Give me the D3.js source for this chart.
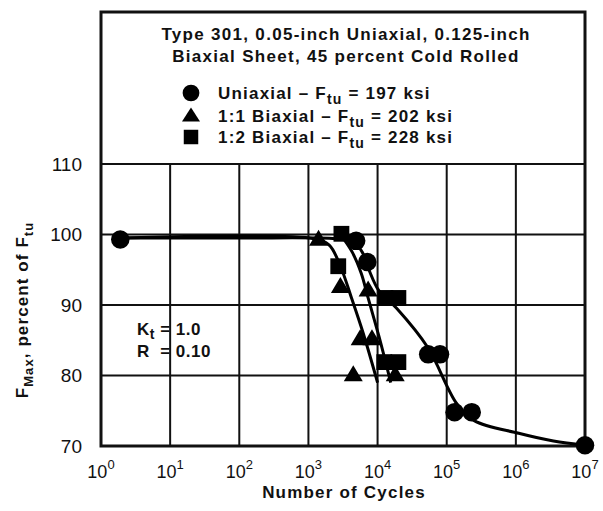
<!DOCTYPE html>
<html><head><meta charset="utf-8">
<script src="https://cdn.jsdelivr.net/npm/d3@7"></script>
<style>
body{margin:0;background:#fff;}
svg text{font-family:"Liberation Sans",Arial,sans-serif;font-weight:bold;fill:#111;}
</style></head>
<body>
<svg id="c" width="603" height="511"></svg>
<script>
// ---- data ----
const xTickExps = [0,1,2,3,4,5,6,7];
const yTicks = [70,80,90,100,110];
const titleLines = ["Type 301, 0.05-inch Uniaxial, 0.125-inch","Biaxial Sheet, 45 percent Cold Rolled"];
const seriesNames = ["Uniaxial","1:1 Biaxial","1:2 Biaxial"];
const seriesFtu = [197,202,228];
// test points [cycles, percent of Ftu]
const uniaxial = [[1.9,99.3],[4900,99.1],[7100,96.1],[54000,83],[80000,83],[130000,74.8],[230000,74.8],[1e7,70.1]];
const biaxial11 = [[1400,99.3],[2900,92.6],[7300,92.1],[5600,85.2],[8300,85.2],[4450,80.1],[18000,80.1]];
const biaxial12 = [[3000,100.1],[2700,95.5],[13000,91],[20000,91],[12500,81.9],[20000,81.9]];
// faired curves [cycles, percent of Ftu]
const curveUni = [[1.9,99.5],[100,99.5],[2500,99.4],[4500,99.0],[6000,97.5],[7500,95],[10500,92],[19000,89.5],[53000,84],[140000,76],[250000,73.6],[1.1e6,71.8],[3.5e6,70.7],[1e7,70.1]];
const curve11 = [[1.9,99.5],[1200,99.4],[2000,98.5],[2900,95.5],[4200,91],[6200,86],[10000,79]];
const curve12 = [[3000,99.8],[4300,97.5],[5800,94.5],[7300,91],[10500,85.5],[15500,79]];
const ktText = ["K","t"," = 1.0"];
const rText = "R  = 0.10";

// ---- scales ----
const svg = d3.select("#c");
const x = d3.scaleLog().domain([1,1e7]).range([101,585]);
const y = d3.scaleLinear().domain([70,110]).range([446,164]);

// grid
const g = svg.append("g");
g.selectAll("line.h").data(yTicks).join("line")
  .attr("x1",x(1)).attr("x2",x(1e7)).attr("y1",d=>y(d)).attr("y2",d=>y(d))
  .attr("stroke","#111").attr("stroke-width",2);
g.selectAll("line.v").data(xTickExps).join("line")
  .attr("x1",d=>x(Math.pow(10,d))).attr("x2",d=>x(Math.pow(10,d)))
  .attr("y1",y(110)).attr("y2",y(70))
  .attr("stroke","#111").attr("stroke-width",2);
// outer frame
svg.append("rect").attr("x",x(1)).attr("y",12).attr("width",x(1e7)-x(1)).attr("height",y(70)-12)
  .attr("fill","none").attr("stroke","#111").attr("stroke-width",3);

// y tick labels
const yAxis = d3.axisLeft(y).tickValues(yTicks).tickSize(0).tickPadding(19);
const ya = svg.append("g").attr("transform",`translate(${x(1)},0)`).call(yAxis);
ya.select(".domain").remove();
ya.selectAll("text").style("font-family","Liberation Sans, Arial, sans-serif").style("font-size","19px").style("font-weight","normal").attr("fill","#111");

// x tick labels
const xa = svg.append("g");
xTickExps.forEach(e=>{
  const t = xa.append("text").attr("x",x(Math.pow(10,e))).attr("y",478)
    .attr("text-anchor","middle").style("font-size","18px").style("font-weight","normal");
  t.append("tspan").text("10");
  t.append("tspan").attr("dy",-9).style("font-size","13px").text(e);
});
svg.append("text").attr("x",344).attr("y",498).attr("text-anchor","middle")
  .style("font-size","17px").style("letter-spacing","1.2px").text("Number of Cycles");

const yl = svg.append("text").attr("transform","translate(28,310) rotate(-90)").attr("text-anchor","middle")
  .style("font-size","17px").style("letter-spacing","1.1px");
yl.append("tspan").text("F");
yl.append("tspan").attr("dy",5).style("font-size","13px").text("Max");
yl.append("tspan").attr("dy",-5).text(", percent of F");
yl.append("tspan").attr("dy",5).style("font-size","13px").text("tu");

// title
titleLines.forEach((t,i)=>{
  svg.append("text").attr("x",346).attr("y",40+i*22).attr("text-anchor","middle")
    .style("font-size","17px").style("letter-spacing","1.3px").text(t);
});

// symbols
const triPath = (w,h)=>`M0,${-h*0.6}L${w/2},${h*0.4}L${-w/2},${h*0.4}Z`;
const symCircle = d3.symbol().type(d3.symbolCircle).size(270);
const symSq = d3.symbol().type(d3.symbolSquare).size(250);
const syms=[()=>symCircle(),()=>triPath(19,16),()=>symSq()];

// legend
const legY = [93,116,137];
seriesNames.forEach((n,i)=>{
  const ly = legY[i];
  const lsym = [d3.symbol().type(d3.symbolCircle).size(220)(), triPath(18,14), d3.symbol().type(d3.symbolSquare).size(210)()][i];
  svg.append("path").attr("d",lsym).attr("transform",`translate(191,${ly})`).attr("fill","#000");
  const t = svg.append("text").attr("x",218).attr("y",ly+6).style("font-size","17px").style("letter-spacing","1.2px");
  t.append("tspan").text(n+" \u2013 F");
  t.append("tspan").attr("dy",5).style("font-size","14px").text("tu");
  t.append("tspan").attr("dy",-5).text(" = "+seriesFtu[i]+" ksi");
});

// Kt, R
const kt = svg.append("text").attr("x",137).attr("y",335).style("font-size","17px").style("letter-spacing","0.5px");
kt.append("tspan").text(ktText[0]);
kt.append("tspan").attr("dy",4).style("font-size","14px").text(ktText[1]);
kt.append("tspan").attr("dy",-4).text(ktText[2]);
svg.append("text").attr("x",137).attr("y",357).style("font-size","17px").style("letter-spacing","0.5px").attr("xml:space","preserve").text(rText);

// curves
const line = d3.line().x(d=>x(d[0])).y(d=>y(d[1])).curve(d3.curveCatmullRom.alpha(0.5));
[curveUni,curve11,curve12].forEach(c=>{
  svg.append("path").attr("d",line(c)).attr("fill","none").attr("stroke","#000").attr("stroke-width",3);
});

// points
[uniaxial,biaxial11,biaxial12].forEach((arr,i)=>{
  svg.selectAll(null).data(arr).join("path").attr("d",syms[i]())
    .attr("transform",d=>`translate(${x(d[0])},${y(d[1])})`).attr("fill","#000");
});
</script>
</body></html>
